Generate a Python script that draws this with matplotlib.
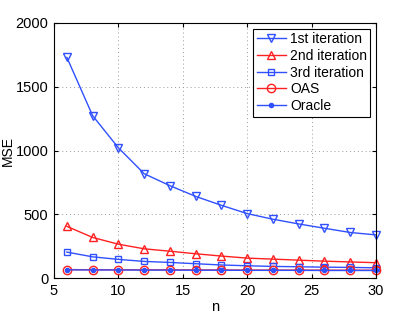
import matplotlib
matplotlib.use("Agg")
import matplotlib.pyplot as plt

n = [6, 8, 10, 12, 14, 16, 18, 20, 22, 24, 26, 28, 30]
it1 = [1730, 1273, 1021, 818, 724, 640, 570, 505, 461, 424, 390, 357, 338]
it2 = [405, 318, 265, 229, 210, 190, 172, 156, 148, 140, 132, 126, 120]
it3 = [203, 166, 146, 130, 122, 112, 102, 96, 91, 88, 85, 83, 80]
oas = [66, 65, 65, 64, 64, 63, 63, 62, 62, 62, 61, 61, 61]
oracle = [64, 63, 63, 62, 62, 61, 61, 60, 60, 60, 59, 59, 59]

plt.rcParams['font.family'] = ['Liberation Sans', 'DejaVu Sans']
blue = '#3050ff'
red = '#ff2020'

fig = plt.figure(figsize=(4.15, 3.13), dpi=100)
ax = fig.add_axes([54/415, 1-278/313, (376-54)/415, (278-23)/313])

kw = dict(lw=1, clip_on=False)
ax.plot(n, it1, color=blue, marker='v', mfc='none', ms=6, label='1st iteration', **kw)
ax.plot(n, it2, color=red, marker='^', mfc='none', ms=6, label='2nd iteration', **kw)
ax.plot(n, it3, color=blue, marker='s', mfc='none', ms=5, label='3rd iteration', **kw)
ax.plot(n, oas, color=red, marker='o', mfc='none', ms=6, label='OAS', **kw)
ax.plot(n, oracle, color=blue, marker='.', ms=6, label='Oracle', **kw)

ax.set_xlim(5, 30)
ax.set_ylim(0, 2000)
ax.set_xticks([5, 10, 15, 20, 25, 30])
ax.set_yticks([0, 500, 1000, 1500, 2000])
ax.grid(True, linestyle=(0, (1, 3)), color='#999999', lw=0.7)
ax.tick_params(direction='in', labelsize=10.5, top=True, right=True, length=3, pad=4)
for s in ax.spines.values():
    s.set_linewidth(0.8)
ax.set_xlabel('n', fontsize=10.5, labelpad=2)
ax.set_ylabel('MSE', fontsize=10)
ax.yaxis.set_label_coords(-0.122, 0.5)

leg = ax.legend(loc='upper right', fontsize=10, fancybox=False, edgecolor='black',
                framealpha=1, borderaxespad=0.4, handlelength=2.1, labelspacing=0.2,
                borderpad=0.25, handletextpad=0.3)
leg.get_frame().set_linewidth(0.8)

fig.savefig('out.png', dpi=100)
